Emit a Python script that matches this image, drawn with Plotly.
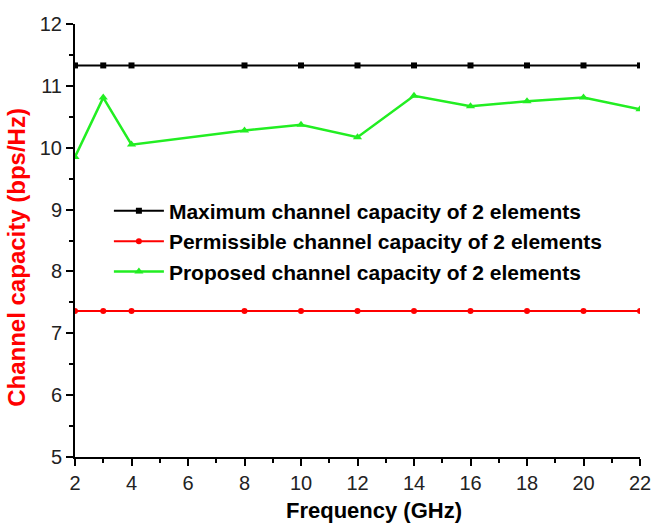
import plotly.graph_objects as go

# Frequency points (GHz)
freq = [2, 3, 4, 8, 10, 12, 14, 16, 18, 20, 22]

# Channel capacity (bps/Hz)
max_capacity = [11.33] * len(freq)
permissible_capacity = [7.36] * len(freq)
proposed_capacity = [9.85, 10.81, 10.05, 10.28, 10.37, 10.17, 10.84, 10.67, 10.75, 10.81, 10.62]

series_names = [
    "Maximum channel capacity of 2 elements",
    "Permissible channel capacity of 2 elements",
    "Proposed channel capacity of 2 elements",
]

x_ticks = [2, 4, 6, 8, 10, 12, 14, 16, 18, 20, 22]
y_ticks = [5, 6, 7, 8, 9, 10, 11, 12]

FONT = "Liberation Sans, Arial, sans-serif"

fig = go.Figure()
fig.add_trace(go.Scatter(
    x=freq, y=max_capacity, name=series_names[0], mode="lines+markers",
    line=dict(color="black", width=2),
    marker=dict(symbol="square", size=6, color="black"),
))
fig.add_trace(go.Scatter(
    x=freq, y=permissible_capacity, name=series_names[1], mode="lines+markers",
    line=dict(color="#ff0000", width=2),
    marker=dict(symbol="circle", size=6, color="#ff0000"),
))
fig.add_trace(go.Scatter(
    x=freq, y=proposed_capacity, name=series_names[2], mode="lines+markers",
    line=dict(color="#22ee22", width=2.5),
    marker=dict(symbol="triangle-up", size=8, color="#22ee22"),
))

axis_common = dict(
    showgrid=False, zeroline=False, showline=True, linecolor="black", linewidth=2,
    ticks="outside", ticklen=7, tickwidth=2, tickcolor="black",
    tickfont=dict(family=FONT, size=20, color="#222222"),
    automargin=False,
)

fig.update_xaxes(
    range=[2, 22], tickvals=x_ticks,
    minor=dict(dtick=1, ticks="outside", ticklen=4, tickwidth=2, tickcolor="black"),
    **axis_common,
)
fig.update_yaxes(
    range=[5, 12], tickvals=y_ticks,
    minor=dict(dtick=0.5, ticks="outside", ticklen=4, tickwidth=2, tickcolor="black"),
    **axis_common,
)

fig.update_layout(
    width=652, height=523,
    margin=dict(l=75, r=12, t=24, b=66),
    plot_bgcolor="white", paper_bgcolor="white",
    showlegend=True,
    legend=dict(
        x=0.06, y=0.615, xanchor="left", yanchor="top",
        bgcolor="rgba(0,0,0,0)", borderwidth=0,
        font=dict(family=FONT, size=21, color="black", weight="bold"),
        tracegroupgap=0, itemwidth=50,
    ),
    annotations=[
        dict(
            text="<b>Frequency (GHz)</b>", xref="paper", yref="paper",
            x=0.53, y=0, yshift=-53, xanchor="center", yanchor="middle",
            showarrow=False, font=dict(family=FONT, size=22, color="black"),
        ),
        dict(
            text="<b>Channel capacity (bps/Hz)</b>", xref="paper", yref="paper",
            x=0, xshift=-58, y=0.46, xanchor="center", yanchor="middle",
            textangle=-90, showarrow=False,
            font=dict(family=FONT, size=24, color="#ff0000"),
        ),
    ],
)

fig.write_html("out.html")
